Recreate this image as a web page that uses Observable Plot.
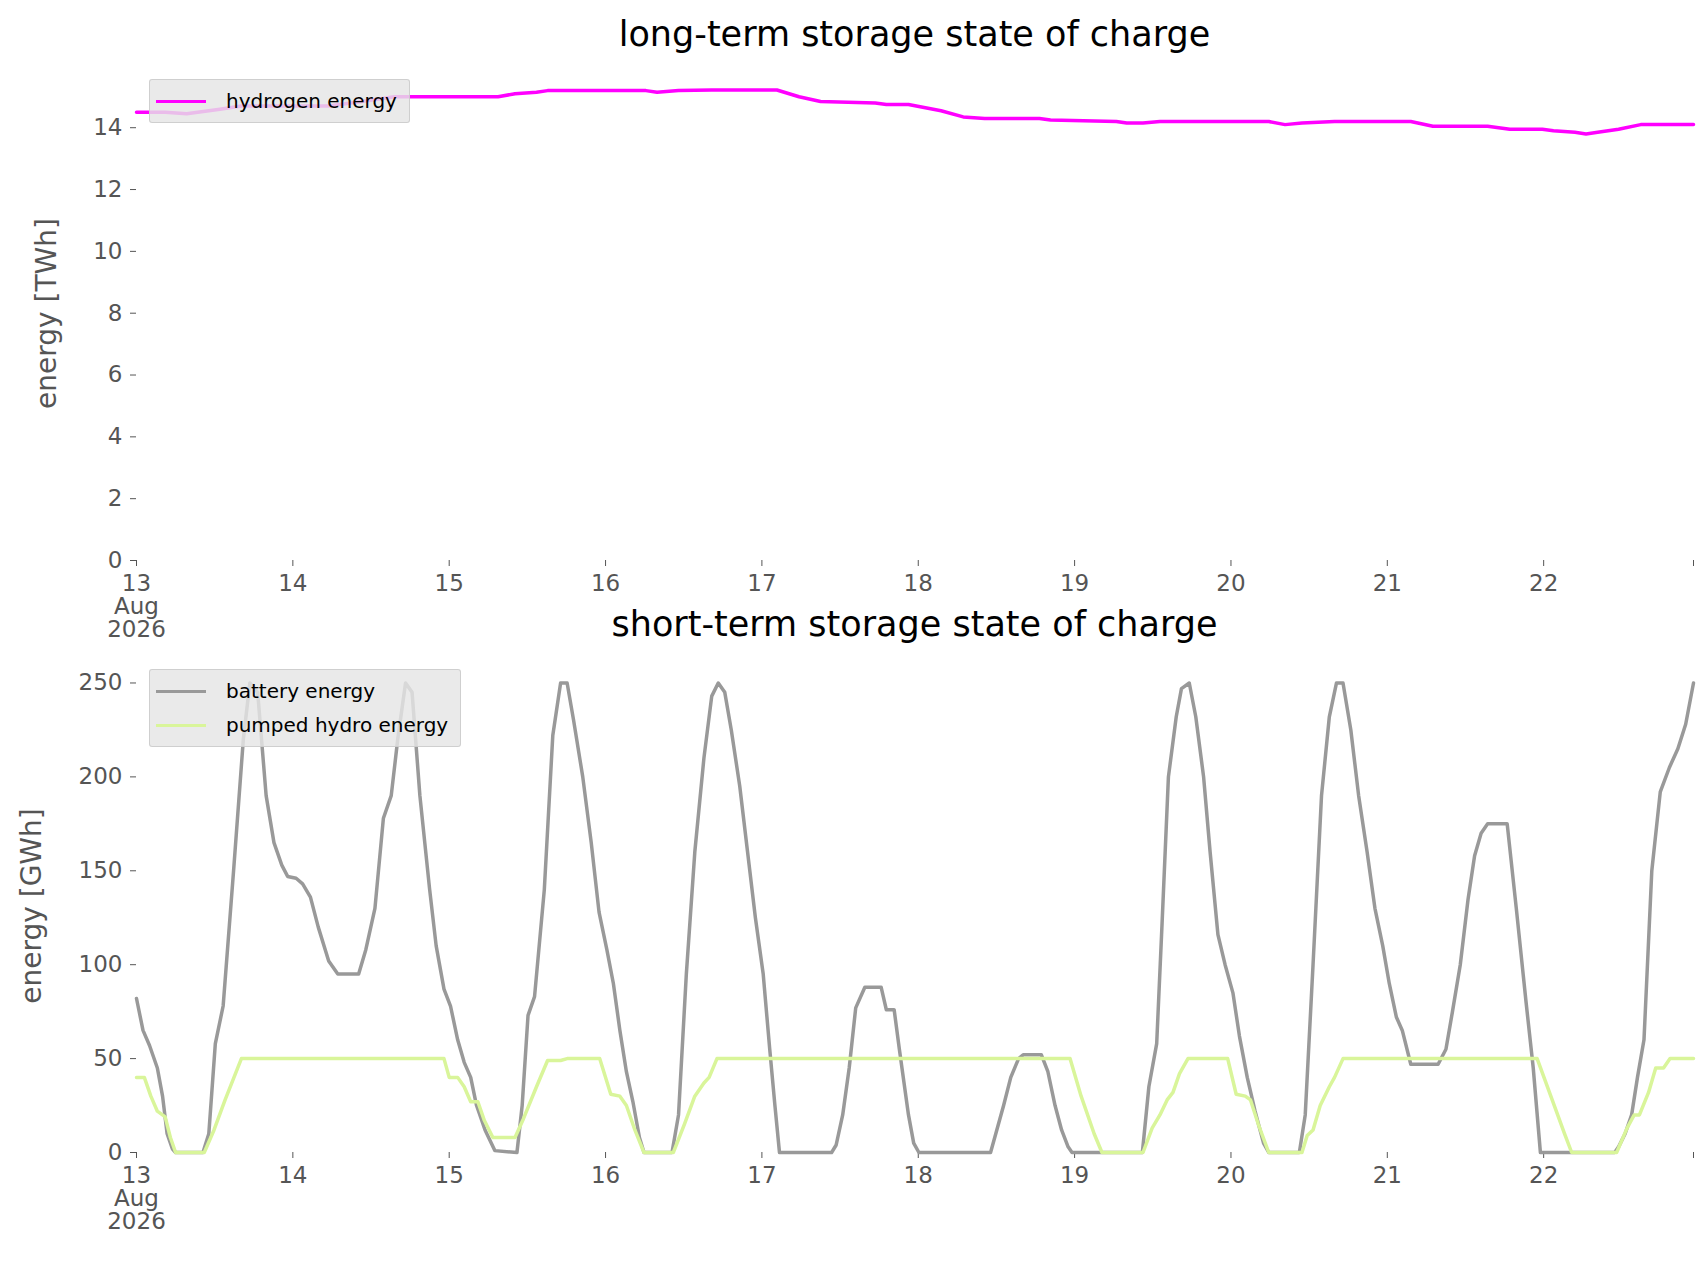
<!DOCTYPE html>
<html><head><meta charset="utf-8">
<script src="https://cdn.jsdelivr.net/npm/d3@7"></script>
<script src="https://cdn.jsdelivr.net/npm/@observablehq/plot@0.6"></script>
<style>
body{margin:0;background:#fff;font-family:"DejaVu Sans",sans-serif;}
#wrap{position:relative;width:1706px;height:1277px;}
.title{position:absolute;left:136px;width:1557px;text-align:center;font-size:35px;color:#000;}
.legend{position:absolute;left:149px;background:rgba(229,229,229,0.82);border:1px solid rgba(200,200,200,0.8);border-radius:3px;padding:4px 12px 4px 6px;font-size:20px;color:#000;}
.legend div{display:flex;align-items:center;height:34px;}
.legend span.sw{display:inline-block;width:50px;height:0;border-top:3.5px solid;margin-right:20px;}
svg{position:absolute;left:0;}
</style></head><body>
<div id="wrap"></div>
<script>
// hours from 13 Aug 2026 00:00
const hydroH = [0,4.4,7.7,9.4,12.8,16.1,29.5,34.6,39.6,55.5,58.1,61.4,63.1,78.2,79.9,83.2,88.3,98.3,101.7,105.0,113.4,115.1,118.5,123.5,126.9,130.2,138.6,140.3,150.4,152.0,154.5,157.1,173.8,176.3,178.9,183.9,195.6,199.0,207.4,210.8,215.8,217.5,220.8,222.5,224.3,227.5,230.9,239];
const hydroV = [14.5,14.5,14.45,14.5,14.6,14.7,14.7,14.85,15.0,15.0,15.1,15.15,15.2,15.2,15.15,15.2,15.22,15.22,15.0,14.85,14.8,14.75,14.75,14.55,14.35,14.3,14.3,14.25,14.2,14.15,14.15,14.2,14.2,14.1,14.15,14.2,14.2,14.05,14.05,13.95,13.95,13.9,13.85,13.8,13.85,13.95,14.1,14.1];

const batH = [0,1.0,2.0,3.2,4.0,4.7,5.5,6.0,10.2,11.1,12.1,13.3,14.9,16.4,17.4,18.6,19.9,21.1,22.3,23.2,24.5,25.5,26.7,27.9,29.5,30.9,34.1,35.2,36.6,37.9,39.1,40.1,41.3,42.3,43.5,45.0,46.0,47.2,48.2,49.3,50.3,51.3,52.2,53.5,55.0,58.4,59.2,60.1,61.1,62.6,63.9,65.1,66.1,67.1,68.5,69.8,71.0,72.2,73.2,74.2,75.2,76.2,77.2,77.9,82.2,83.2,84.4,85.7,87.1,88.3,89.3,90.3,91.3,92.6,93.8,95.0,96.2,97.2,98.0,98.7,106.7,107.4,108.4,109.4,110.4,111.8,114.3,115.1,116.3,117.1,118.5,119.3,120.1,131.1,131.9,133.1,134.2,135.4,136.1,138.9,139.9,141.0,142.0,143.0,143.6,154.4,155.4,156.6,157.4,158.4,159.6,160.4,161.6,162.6,163.8,164.8,166.0,167.1,168.3,169.3,170.5,171.7,173.0,173.8,178.5,179.4,180.6,181.9,183.1,184.2,185.2,186.4,187.6,188.9,190.1,191.3,192.3,193.4,194.3,195.6,199.8,201.0,202.0,203.2,204.4,205.4,206.4,207.4,210.4,211.8,213.3,214.4,215.5,226.9,227.5,228.5,229.5,230.4,231.4,232.6,233.9,235.3,236.6,237.8,239.0];
const batV = [82,65,57,45,30,10,2,0,0,10,58,78,150,220,250,245,190,165,153,147,146,143,136,120,102,95,95,108,130,178,190,220,250,245,190,140,110,87,78,60,48,40,25,12,1,0,25,73,83,140,222,250,250,230,200,165,128,108,90,65,43,27,8,0,0,20,95,160,210,243,250,245,225,195,160,125,95,55,25,0,0,4,20,45,77,88,88,76,76,55,20,5,0,0,10,25,40,50,52,52,43,25,12,3,0,0,35,58,120,200,232,247,250,232,200,160,116,100,85,62,40,22,5,0,0,20,100,190,232,250,250,225,190,160,130,110,90,72,65,47,47,55,75,100,135,158,170,175,175,130,80,45,0,0,3,10,20,40,60,150,192,205,215,228,250];

const phH = [0,1.2,2.2,3.2,4.4,5.2,6.0,10.4,11.9,13.6,16.1,47.2,48.0,49.3,50.3,51.3,52.4,53.4,54.7,58.1,59.4,61.4,63.1,65.1,66.1,71.1,72.8,74.2,75.2,76.5,77.9,82.4,84.1,85.7,87.1,87.9,89.1,143.3,145.0,147.0,148.2,154.5,155.9,157.1,158.2,159.1,160.1,161.4,167.5,168.8,170.2,171.0,172.2,173.8,178.9,179.7,180.6,181.7,183.1,183.9,185.2,215.0,217.1,219.2,220.3,227.2,228.8,229.9,230.7,232.1,233.2,234.4,235.4,239.0];
const phV = [40,40,30,22,19,8,0,0,12,28,50,50,40,40,35,27,27,17,8,8,18,35,49,49,50,50,31,30,25,12,0,0,15,30,37,40,50,50,30,10,0,0,13,20,28,32,42,50,50,31,30,28,15,0,0,9,12,25,35,40,50,50,30,10,0,0,13,20,20,32,45,45,50,50];

const dayTicks = [0,24,48,72,96,120,144,168,192,216,239];
const dayLabels = ["13\nAug\n2026","14","15","16","17","18","19","20","21","22",""];

const zip = (h,v,s)=>h.map((t,i)=>({t,v:v[i],s}));
const hyd = zip(hydroH,hydroV,"hydrogen energy");
const bat = zip(batH,batV,"battery energy");
const ph = zip(phH,phV,"pumped hydro energy");

const common = (h,mt,mb)=>({
  width:1706,height:h,marginLeft:136,marginRight:13,marginTop:mt,marginBottom:mb,
  style:{fontFamily:"DejaVu Sans",fontSize:"23px",color:"#555",background:"transparent",overflow:"visible"},
  x:{domain:[0,239],ticks:dayTicks,tickFormat:(d)=>dayLabels[dayTicks.indexOf(d)],tickSize:6,tickPadding:8,label:null}
});

const p1 = Plot.plot({...common(620,66,60),
  y:{domain:[0,15.98],ticks:[0,2,4,6,8,10,12,14],tickSize:6,tickPadding:8,label:"energy [TWh]",labelAnchor:"center",labelArrow:"none",labelOffset:100},
  marks:[Plot.line(hyd,{x:"t",y:"v",stroke:"#ff00ff",strokeWidth:3.5})]
});
p1.style.top="0px";
const p2 = Plot.plot({...common(657,39,125),
  y:{domain:[0,262.5],ticks:[0,50,100,150,200,250],tickSize:6,tickPadding:8,label:"energy [GWh]",labelAnchor:"center",labelArrow:"none",labelOffset:115},
  marks:[
    Plot.line(bat,{x:"t",y:"v",stroke:"#999999",strokeWidth:3.5}),
    Plot.line(ph,{x:"t",y:"v",stroke:"#d9f59a",strokeWidth:3.5})
  ]
});
p2.style.top="620px";
const w=document.getElementById("wrap");
w.append(p1,p2);
for (const s of [p1,p2]) s.querySelectorAll("[aria-label='y-axis label']").forEach(e=>{e.style.fontSize="28px";});
w.insertAdjacentHTML("beforeend",`
<div class="title" style="top:14px">long-term storage state of charge</div>
<div class="title" style="top:604px">short-term storage state of charge</div>
<div class="legend" style="top:79px"><div><span class="sw" style="border-color:#ff00ff"></span>hydrogen energy</div></div>
<div class="legend" style="top:669px"><div><span class="sw" style="border-color:#999"></span>battery energy</div><div><span class="sw" style="border-color:#d9f59a"></span>pumped hydro energy</div></div>`);
</script></body></html>
